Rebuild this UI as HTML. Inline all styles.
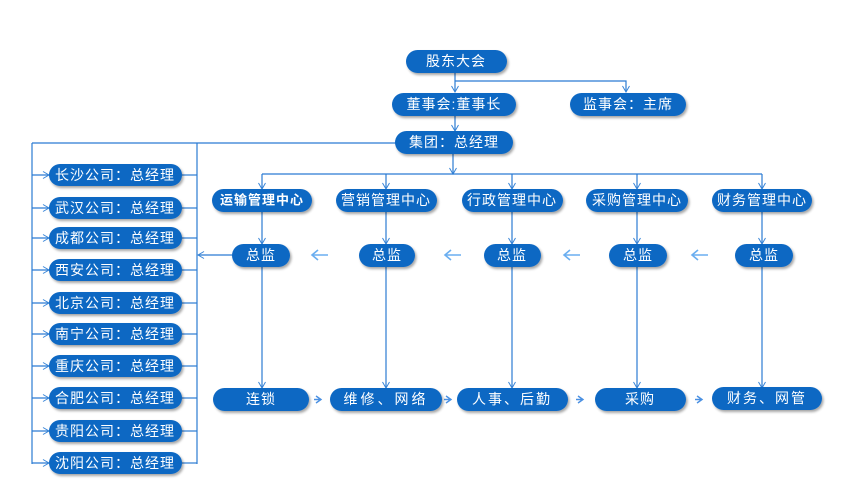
<!DOCTYPE html>
<html><head><meta charset="utf-8"><style>
html,body{margin:0;padding:0;background:#fff;}
svg{display:block;}
text{font-family:"Liberation Sans","Noto Sans CJK SC","WenQuanYi Zen Hei",sans-serif;fill:#fff;font-size:14px;text-anchor:middle;dominant-baseline:central;}
</style></head><body>
<svg width="843" height="504" viewBox="0 0 843 504" xmlns="http://www.w3.org/2000/svg">
<defs>
<filter id="sh" x="-10%" y="-20%" width="130%" height="160%"><feDropShadow dx="1.5" dy="2" stdDeviation="1.2" flood-color="#000" flood-opacity="0.35"/></filter>
<marker id="ah" markerWidth="8" markerHeight="8" refX="7" refY="4" orient="auto" markerUnits="userSpaceOnUse"><path d="M1,0.5 L7,4 L1,7.5" fill="none" stroke="#3a86d8" stroke-width="1"/></marker>
</defs>
<g stroke="#2b7bd3" stroke-width="1.2" fill="none">
<line x1="455" y1="73" x2="455" y2="92" marker-end="url(#ah)"/>
<polyline points="455,81 626,81 626,92" marker-end="url(#ah)"/>
<line x1="455" y1="116" x2="455" y2="131" marker-end="url(#ah)"/>
<line x1="32" y1="143" x2="396" y2="143"/>
<line x1="32" y1="143" x2="32" y2="464"/>
<line x1="197" y1="143" x2="197" y2="464"/>
<line x1="453" y1="154" x2="453" y2="174" marker-end="url(#ah)"/>
<line x1="262" y1="174" x2="762" y2="174"/>
<line x1="262" y1="174" x2="262" y2="189" marker-end="url(#ah)"/>
<line x1="386" y1="174" x2="386" y2="189" marker-end="url(#ah)"/>
<line x1="512" y1="174" x2="512" y2="189" marker-end="url(#ah)"/>
<line x1="637" y1="174" x2="637" y2="189" marker-end="url(#ah)"/>
<line x1="762" y1="174" x2="762" y2="189" marker-end="url(#ah)"/>
<line x1="262" y1="212" x2="262" y2="244" marker-end="url(#ah)"/>
<line x1="386" y1="212" x2="386" y2="244" marker-end="url(#ah)"/>
<line x1="512" y1="212" x2="512" y2="244" marker-end="url(#ah)"/>
<line x1="637" y1="212" x2="637" y2="244" marker-end="url(#ah)"/>
<line x1="762" y1="212" x2="762" y2="244" marker-end="url(#ah)"/>
<line x1="262" y1="267" x2="262" y2="388" marker-end="url(#ah)"/>
<line x1="386" y1="267" x2="386" y2="388" marker-end="url(#ah)"/>
<line x1="512" y1="267" x2="512" y2="388" marker-end="url(#ah)"/>
<line x1="637" y1="267" x2="637" y2="388" marker-end="url(#ah)"/>
<line x1="762" y1="267" x2="762" y2="388" marker-end="url(#ah)"/>
<line x1="232" y1="255" x2="198" y2="255" marker-end="url(#ah)"/>
<line x1="182" y1="175" x2="197" y2="175"/><line x1="32" y1="175" x2="49" y2="175" marker-end="url(#ah)"/>
<line x1="182" y1="208" x2="197" y2="208"/><line x1="32" y1="208" x2="49" y2="208" marker-end="url(#ah)"/>
<line x1="182" y1="238" x2="197" y2="238"/><line x1="32" y1="238" x2="49" y2="238" marker-end="url(#ah)"/>
<line x1="182" y1="270" x2="197" y2="270"/><line x1="32" y1="270" x2="49" y2="270" marker-end="url(#ah)"/>
<line x1="182" y1="303" x2="197" y2="303"/><line x1="32" y1="303" x2="49" y2="303" marker-end="url(#ah)"/>
<line x1="182" y1="334" x2="197" y2="334"/><line x1="32" y1="334" x2="49" y2="334" marker-end="url(#ah)"/>
<line x1="182" y1="366" x2="197" y2="366"/><line x1="32" y1="366" x2="49" y2="366" marker-end="url(#ah)"/>
<line x1="182" y1="398" x2="197" y2="398"/><line x1="32" y1="398" x2="49" y2="398" marker-end="url(#ah)"/>
<line x1="182" y1="431" x2="197" y2="431"/><line x1="32" y1="431" x2="49" y2="431" marker-end="url(#ah)"/>
<line x1="182" y1="463" x2="197" y2="463"/><line x1="32" y1="463" x2="49" y2="463" marker-end="url(#ah)"/>
</g>
<!-- light left arrows -->
<g stroke="#6aaef0" stroke-width="1.6" fill="none">
<path d="M312,255 H328 M318,250 L312,255 L318,260"/>
<path d="M445,255 H461 M451,250 L445,255 L451,260"/>
<path d="M564,255 H580 M570,250 L564,255 L570,260"/>
<path d="M692,255 H708 M698,250 L692,255 L698,260"/>
</g>
<g stroke="#4a90e2" stroke-width="1.4" fill="none">
<path d="M316,396 L321,399.5 L316,403 M314,399.5 H321"/>
<path d="M446,396 L451,399.5 L446,403 M444,399.5 H451"/>
<path d="M578,396 L583,399.5 L578,403 M576,399.5 H583"/>
<path d="M697,396 L702,399.5 L697,403 M695,399.5 H702"/>
</g>
<g fill="#1168c3" filter="url(#sh)">
<rect x="406" y="50" width="101" height="23" rx="11.5"/>
<rect x="392" y="93" width="124" height="23" rx="11.5"/>
<rect x="570" y="93" width="116" height="23" rx="11.5"/>
<rect x="395" y="131" width="118" height="23" rx="11.5"/>
<rect x="212" y="189" width="100" height="23" rx="11.5"/>
<rect x="336" y="189" width="101" height="23" rx="11.5"/>
<rect x="462" y="189" width="101" height="23" rx="11.5"/>
<rect x="586" y="189" width="102" height="23" rx="11.5"/>
<rect x="712" y="189" width="100" height="23" rx="11.5"/>
<rect x="232" y="244" width="58" height="23" rx="11.5"/>
<rect x="359" y="244" width="56" height="23" rx="11.5"/>
<rect x="484" y="244" width="57" height="23" rx="11.5"/>
<rect x="609" y="244" width="58" height="23" rx="11.5"/>
<rect x="735" y="244" width="58" height="23" rx="11.5"/>
<rect x="213" y="388" width="96" height="23" rx="11.5"/>
<rect x="330" y="388" width="112" height="23" rx="11.5"/>
<rect x="457" y="388" width="111" height="23" rx="11.5"/>
<rect x="595" y="388" width="91" height="23" rx="11.5"/>
<rect x="712" y="387" width="110" height="23" rx="11.5"/>
<rect x="49" y="164" width="133" height="22" rx="11"/>
<rect x="49" y="197" width="133" height="22" rx="11"/>
<rect x="49" y="227" width="133" height="22" rx="11"/>
<rect x="49" y="259" width="133" height="22" rx="11"/>
<rect x="49" y="292" width="133" height="22" rx="11"/>
<rect x="49" y="323" width="133" height="22" rx="11"/>
<rect x="49" y="355" width="133" height="22" rx="11"/>
<rect x="49" y="387" width="133" height="22" rx="11"/>
<rect x="49" y="420" width="133" height="22" rx="11"/>
<rect x="49" y="452" width="133" height="22" rx="11"/>
</g>
<g style="letter-spacing:1px">
<text x="456" y="61">股东大会</text>
<text x="454" y="104">董事会:董事长</text>
<text x="628" y="104">监事会：主席</text>
<text x="454" y="142">集团：总经理</text>
<text x="262" y="200" style="font-weight:bold;font-size:13px">运输管理中心</text>
<text x="386" y="200">营销管理中心</text>
<text x="512" y="200">行政管理中心</text>
<text x="637" y="200">采购管理中心</text>
<text x="762" y="200">财务管理中心</text>
<text x="261" y="255">总监</text>
<text x="387" y="255">总监</text>
<text x="512" y="255">总监</text>
<text x="638" y="255">总监</text>
<text x="764" y="255">总监</text>
<text x="261" y="399">连锁</text>
<text x="386" y="399" style="letter-spacing:3px">维修、网络</text>
<text x="512" y="399" style="letter-spacing:2px">人事、后勤</text>
<text x="640" y="399">采购</text>
<text x="767" y="398" style="letter-spacing:2px">财务、网管</text>
<text x="115" y="175">长沙公司：总经理</text>
<text x="115" y="208">武汉公司：总经理</text>
<text x="115" y="238">成都公司：总经理</text>
<text x="115" y="270">西安公司：总经理</text>
<text x="115" y="303">北京公司：总经理</text>
<text x="115" y="334">南宁公司：总经理</text>
<text x="115" y="366">重庆公司：总经理</text>
<text x="115" y="398">合肥公司：总经理</text>
<text x="115" y="431">贵阳公司：总经理</text>
<text x="115" y="463">沈阳公司：总经理</text>
</g>
</svg>
</body></html>
